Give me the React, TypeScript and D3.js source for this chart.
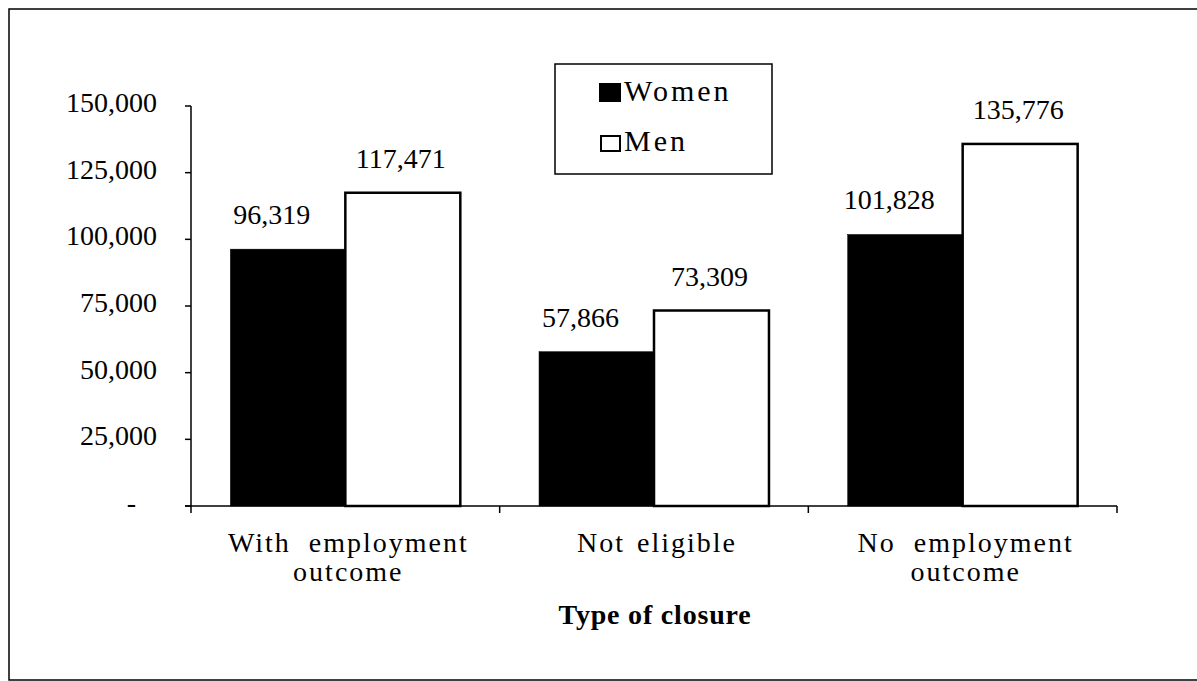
import React from "react";
import * as d3 from "d3";

const categories: string[][] = [
  ["With employment", "outcome"],
  ["Not eligible"],
  ["No employment", "outcome"],
];
const seriesNames = ["Women", "Men"];
const women = [96319, 57866, 101828];
const men = [117471, 73309, 135776];
const yTicks = [0, 25000, 50000, 75000, 100000, 125000, 150000];
const axisTitle = "Type of closure";

const W = 1197;
const H = 681;
const FONT = "'Liberation Serif', 'Times New Roman', serif";

export default function App() {
  const x0 = d3
    .scaleBand<number>()
    .domain(categories.map((_, i) => i))
    .range([191, 1117])
    .paddingInner(0.255)
    .paddingOuter(0.1275);
  const x1 = d3
    .scaleBand<string>()
    .domain(seriesNames)
    .range([0, x0.bandwidth()])
    .padding(0);
  const y = d3.scaleLinear().domain([0, 150000]).range([506, 106]);
  const fmt = d3.format(",");
  const values = [women, men];
  const step = x0.step();
  const xLeft = x0.range()[0];

  return (
    <svg
      width={W}
      height={H}
      style={{ position: "absolute", left: 0, top: 0, background: "#fff" }}
      fontFamily={FONT}
    >
      <rect x={0} y={0} width={W} height={H} fill="#fff" />
      {/* frame */}
      <rect x={9} y={9} width={W + 10} height={671} fill="none" stroke="#000" strokeWidth={1.5} />

      {/* bars */}
      {categories.map((_, ci) =>
        seriesNames.map((s, si) => {
          const v = values[si][ci];
          const bx = (x0(ci) as number) + (x1(s) as number);
          return (
            <rect
              key={`${ci}-${si}`}
              x={bx}
              y={y(v)}
              width={x1.bandwidth()}
              height={y(0) - y(v)}
              fill={si === 0 ? "#000" : "#fff"}
              stroke="#000"
              strokeWidth={si === 0 ? 0.5 : 2.5}
            />
          );
        })
      )}

      {/* value labels */}
      {categories.map((_, ci) =>
        seriesNames.map((s, si) => {
          const v = values[si][ci];
          const cx = (x0(ci) as number) + (x1(s) as number) + x1.bandwidth() / 2 + (si === 0 ? -16 : -2);
          return (
            <text key={`l${ci}-${si}`} x={cx} y={y(v) - 25} textAnchor="middle" fontSize={28}>
              {fmt(v)}
            </text>
          );
        })
      )}

      {/* y axis */}
      <line x1={191} x2={191} y1={y(150000)} y2={y(0)} stroke="#000" strokeWidth={1.5} />
      {yTicks.map((t) => (
        <g key={t}>
          <line x1={185} x2={191} y1={y(t)} y2={y(t)} stroke="#000" strokeWidth={1.5} />
          <text
            x={t === 0 ? 136 : 157}
            y={y(t) + 6}
            textAnchor="end"
            fontSize={28}
          >
            {t === 0 ? "-" : fmt(t)}
          </text>
        </g>
      ))}

      {/* x axis */}
      <line x1={185} x2={1117} y1={y(0)} y2={y(0)} stroke="#000" strokeWidth={1.5} />
      {d3.range(categories.length + 1).map((i) => (
        <line
          key={`xt${i}`}
          x1={xLeft + i * step}
          x2={xLeft + i * step}
          y1={y(0)}
          y2={y(0) + 7}
          stroke="#000"
          strokeWidth={1.5}
        />
      ))}
      {categories.map((lines, ci) => (
        <text
          key={`c${ci}`}
          textAnchor="middle"
          fontSize={28}
          letterSpacing={2}
          wordSpacing={lines.length > 1 ? 9 : 3}
        >
          {lines.map((ln, li) => (
            <tspan key={li} x={(x0(ci) as number) + x0.bandwidth() / 2 + 3} y={552 + li * 29}>
              {ln}
            </tspan>
          ))}
        </text>
      ))}
      <text x={655} y={624} textAnchor="middle" fontSize={28} fontWeight="bold" letterSpacing={0.8}>
        {axisTitle}
      </text>

      {/* legend */}
      <rect x={555} y={64} width={217} height={110} fill="#fff" stroke="#000" strokeWidth={1.5} />
      <rect x={599} y={83} width={22} height={19} fill="#000" />
      <text x={624} y={101} fontSize={30} letterSpacing={3}>
        {seriesNames[0]}
      </text>
      <rect x={601} y={136} width={19} height={15} fill="#fff" stroke="#000" strokeWidth={2} />
      <text x={624} y={151} fontSize={30} letterSpacing={3}>
        {seriesNames[1]}
      </text>
    </svg>
  );
}
